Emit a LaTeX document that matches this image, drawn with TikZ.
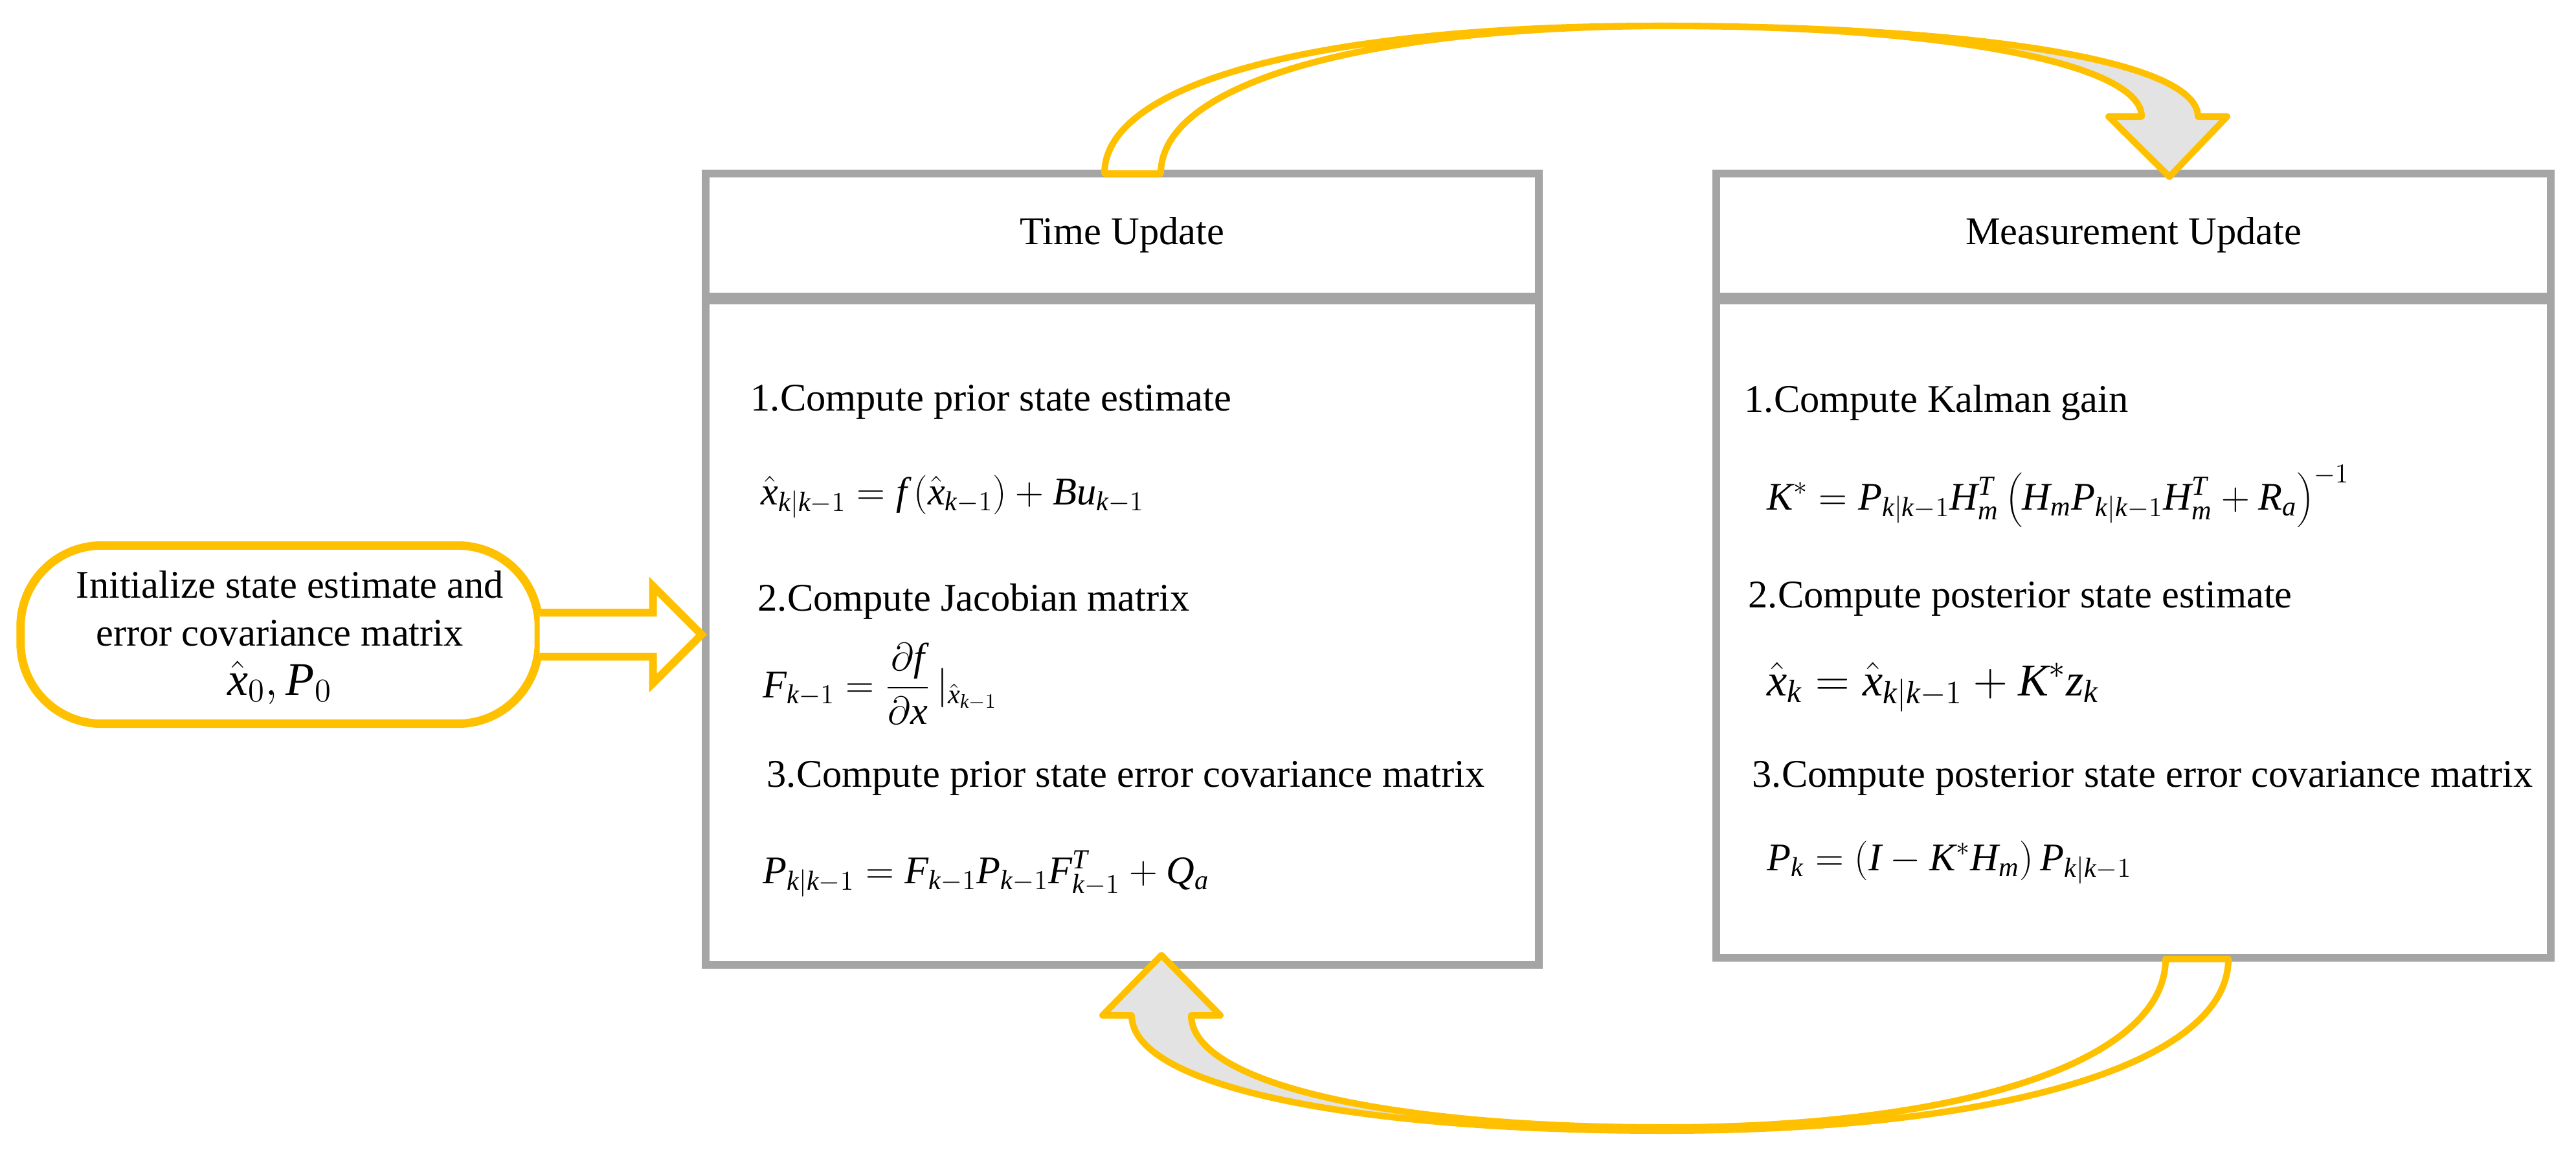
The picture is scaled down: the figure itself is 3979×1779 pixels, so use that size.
\documentclass[tikz,border=0pt]{standalone}
\usepackage{fontspec}
\setmainfont{Liberation Serif}
\usetikzlibrary{calc}
\definecolor{gold}{HTML}{FFC000}
\definecolor{boxgray}{HTML}{A5A5A5}
\definecolor{ribbongray}{HTML}{E3E3E3}
\newcommand\mi[1]{\mathit{#1}}
\newcommand\kk{\mathit{k}|\mathit{k}-1}
\newcommand\km{\mathit{k}-1}
\begin{document}
\begin{tikzpicture}[x=0.01cm,y=-0.01cm,
  base/.style={font=\fontsize{17.2}{21}\selectfont},
  box/.style={draw=boxgray,line width=0.12cm,inner sep=0,minimum width=12.87cm},
  txt/.style={base,anchor=base west,inner sep=0},
  ctxt/.style={base,anchor=base,inner sep=0},
  ribbon/.style={draw=gold,line width=0.1cm,line join=round},
  fat/.style={draw=gold,line width=0.12cm,fill=white,line join=miter}]
\useasboundingbox (0,0) rectangle (3979,1779);

% boxes
\node[box,base,minimum height=1.90cm] (tuh) at (1733.5,363) {Time Update};
\node[box,minimum height=10.26cm] (tub) at (1733.5,977) {};
\node[box,base,minimum width=12.89cm,minimum height=1.90cm] (muh) at (3295.5,363) {Measurement Update};
\node[box,minimum width=12.89cm,minimum height=10.15cm] (mub) at (3295.5,971.5) {};

% time update texts
\node[txt] (t1) at (1159,634) {1.Compute prior state estimate};
\node[txt] (e1) at (1175,779) {$\hat{\mi{x}}_{\kk} = \mi{f}\left(\hat{\mi{x}}_{\km}\right) + \mi{Bu}_{\km}$};
\node[txt] (t2) at (1170,943) {2.Compute Jacobian matrix};
\node[txt] (e2) at (1178,1077) {$\mi{F}_{\km} = \displaystyle\frac{\partial \mi{f}}{\partial \mi{x}}\,|_{\hat{\mi{x}}_{\km}}$};
\node[txt] (t3) at (1184,1215) {3.Compute prior state error covariance matrix};
\node[txt] (e3) at (1178,1364) {$\mi{P}_{\kk} = \mi{F}_{\km}\mi{P}_{\km}\mi{F}^{\mi{T}}_{\km} + \mi{Q}_{\mi{a}}$};

% measurement update texts
\node[txt] (m1) at (2694,636) {1.Compute Kalman gain};
\node[txt] (f1) at (2729,787) {$\mi{K}^{*} = \mi{P}_{\kk}\mi{H}^{\mi{T}}_{\mi{m}}\left(\mi{H}_{\mi{m}}\mi{P}_{\kk}\mi{H}^{\mi{T}}_{\mi{m}} + \mi{R}_{\mi{a}}\right)^{-1}$};
\node[txt] (m2) at (2700,938) {2.Compute posterior state estimate};
\node[txt,font=\fontsize{20}{24}\selectfont] (f2) at (2729,1074) {$\hat{\mi{x}}_{\mi{k}} = \hat{\mi{x}}_{\kk} + \mi{K}^{*}\mi{z}_{\mi{k}}$};
\node[txt] (m3) at (2706,1215) {3.Compute posterior state error covariance matrix};
\node[txt] (f3) at (2729,1344) {$\mi{P}_{\mi{k}} = \left(\mi{I} - \mi{K}^{*}\mi{H}_{\mi{m}}\right)\mi{P}_{\kk}$};

% init node
\node[draw=gold,line width=0.13cm,rounded corners=1.25cm,minimum width=8cm,minimum height=2.75cm,fill=white] (init) at (432,980) {};
\node[ctxt] (i1) at (448,923) {Initialize state estimate and};
\node[ctxt] (i2) at (432,997) {error covariance matrix};
\node[ctxt,font=\fontsize{20.5}{24}\selectfont] (i3) at (432,1073) {$\hat{\mi{x}}_0,\mi{P}_0$};

% straight fat arrow
\coordinate (tip) at (tub.west |- init.east);
\draw[fat] ($(init.east)+(-5,-34)$) -- ($(tip)+(-75,-34)$) -- ($(tip)+(-75,-75)$) -- (tip)
  -- ($(tip)+(-75,75)$) -- ($(tip)+(-75,34)$) -- ($(init.east)+(-5,34)$);

% top curved arrow
\coordinate (ta) at (1706,268);
\coordinate (tb) at (1793,268);
\coordinate (ha) at (3395,180);
\coordinate (hb) at (3308,180);
\coordinate (htip) at (3351,273);
\def\toparrow{(ta) .. controls (1706,125) and (2048,40) .. (2560,40) .. controls (3061,40) and (3395,95) .. (ha) -- (3440,180) -- (htip) -- (3257,180) -- (hb) .. controls (3308,98) and (3000,40) .. (2580,40) .. controls (2110,40) and (1793,128) .. (tb) -- cycle}
\fill[white] \toparrow;
\begin{scope}
\clip (2600,0) rectangle (3979,400);
\fill[ribbongray] \toparrow;
\end{scope}
\draw[ribbon] \toparrow;

% bottom curved arrow
\coordinate (ba) at (3442,1481);
\coordinate (bb) at (3345,1481);
\coordinate (ga) at (1748,1568);
\coordinate (gb) at (1840,1568);
\coordinate (gtip) at (1794,1475);
\def\botarrow{(ga) .. controls (1748,1675) and (2077,1746) .. (2570,1746) .. controls (3093,1746) and (3442,1642) .. (ba) -- (bb) .. controls (3345,1638) and (3035,1741) .. (2570,1741) .. controls (2132,1741) and (1840,1670) .. (gb) -- (1885,1568) -- (gtip) -- (1703,1568) -- cycle}
\fill[white] \botarrow;
\begin{scope}
\clip (0,1400) rectangle (2570,1779);
\fill[ribbongray] \botarrow;
\end{scope}
\draw[ribbon] \botarrow;
\end{tikzpicture}
\end{document}
